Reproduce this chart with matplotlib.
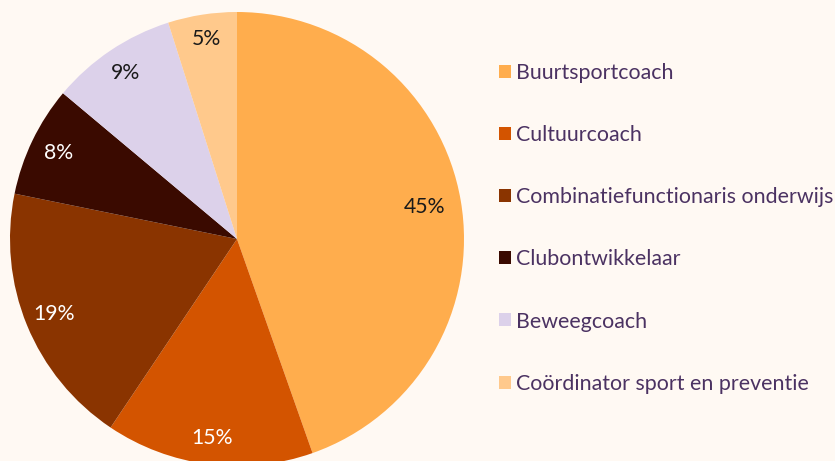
import numpy as np
import matplotlib.pyplot as plt

plt.rcParams['font.family'] = ['Lato', 'DejaVu Sans']

# share per function type (percent)
labels = ["Buurtsportcoach", "Cultuurcoach", "Combinatiefunctionaris onderwijs",
          "Clubontwikkelaar", "Beweegcoach", "Coördinator sport en preventie"]
values = [44.6, 14.8, 18.8, 7.9, 9.0, 4.9]
colors = ["#FFAD4D", "#D35400", "#8A3400", "#3A0A00", "#DCD1EA", "#FFC98C"]
pct_colors = ["#1a1a1a", "white", "white", "white", "#1a1a1a", "#1a1a1a"]
pct_dist = [0.84, 0.885, 0.87, 0.875, 0.88, 0.89]

bg = "#FFF9F3"
fig = plt.figure(figsize=(8.35, 4.61), dpi=100, facecolor=bg)
ax = fig.add_axes([10/835, 1 - 466/461, 454/835, 454/461])
ax.set_facecolor(bg)

wedges, texts, autotexts = ax.pie(values, colors=colors, startangle=90, counterclock=False,
                                  autopct=lambda p: f"{p:.0f}%", pctdistance=0.88,
                                  textprops=dict(fontsize=15.3))
# place each percentage label along its wedge's middle angle
for w, t, c, d in zip(wedges, autotexts, pct_colors, pct_dist):
    mid = np.deg2rad((w.theta1 + w.theta2) / 2)
    t.set_position((d * np.cos(mid), d * np.sin(mid)))
    t.set_color(c)
ax.set_aspect('equal')
ax.set_xlim(-1, 1)
ax.set_ylim(-1, 1)

leg = fig.legend(wedges, labels, loc='upper left', bbox_to_anchor=(499/835, 1 - 63/461),
                 frameon=False, fontsize=15.4, handlelength=0.56, handleheight=0.56,
                 handletextpad=0.23, labelspacing=1.97, borderpad=0, borderaxespad=0)
for t in leg.get_texts():
    t.set_color("#4B3262")

fig.savefig("out.png", dpi=100, facecolor=bg)
